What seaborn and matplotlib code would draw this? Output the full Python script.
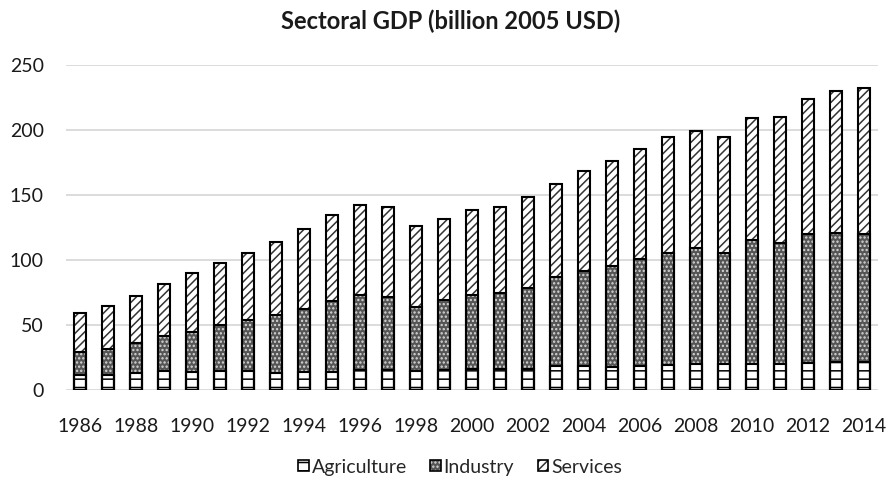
import matplotlib
matplotlib.use("Agg")
import matplotlib.pyplot as plt
import seaborn as sns
import pandas as pd
from matplotlib.patches import Patch

years = list(range(1986, 2015))
agriculture = [11.5, 11.5, 13.3, 14.6, 14.1, 14.6, 14.9, 12.8, 13.6, 14.1,
               15.1, 15.1, 14.6, 15.1, 15.9, 16.4, 16.4, 18.5, 18.5, 17.9,
               18.7, 19.3, 19.7, 20.0, 19.7, 20.3, 20.8, 21.5, 21.8]
industry = [17.5, 20.0, 23.1, 26.9, 30.8, 35.4, 38.9, 44.9, 48.7, 54.4,
            57.7, 56.7, 49.5, 53.9, 57.2, 58.0, 62.1, 68.4, 73.0, 77.5,
            82.1, 86.3, 89.5, 85.4, 95.7, 92.5, 99.5, 99.3, 98.5]
services = [30.0, 33.0, 36.1, 39.8, 45.1, 47.7, 51.8, 55.9, 61.5, 66.4,
            69.8, 69.2, 62.1, 62.8, 65.1, 66.4, 69.7, 71.6, 77.2, 80.8,
            84.6, 88.8, 90.3, 89.5, 94.1, 97.5, 103.5, 109.5, 112.0]
series_names = ["Agriculture", "Industry", "Services"]
title = "Sectoral GDP (billion 2005 USD)"

df = pd.DataFrame({"year": [str(y) for y in years],
                   "Agriculture": agriculture,
                   "Industry": industry,
                   "Services": services})
df["cum_agri"] = df["Agriculture"]
df["cum_ind"] = df["cum_agri"] + df["Industry"]
df["cum_total"] = df["cum_ind"] + df["Services"]

sns.set_theme(style="white")
plt.rcParams["font.family"] = ["Lato", "DejaVu Sans"]
plt.rcParams["hatch.linewidth"] = 1.1

fig = plt.figure(figsize=(8.9, 4.86), dpi=100)
ax = fig.add_axes([66 / 890, 1 - 390 / 486, 812 / 890, 325 / 486])

# style per layer: (column, face, hatch, hatch colour)
styles = {
    "Services": ("cum_total", "white", "////", "#333333"),
    "Industry": ("cum_ind", "#555555", "....", "#d8d8d8"),
    "Agriculture": ("cum_agri", "white", "--", "black"),
}
bw = 0.43
for name in ["Services", "Industry", "Agriculture"]:
    col, face, hatch, hc = styles[name]
    sns.barplot(data=df, x="year", y=col, ax=ax, color=face, saturation=1,
                width=bw, hatch=hatch, edgecolor=hc, linewidth=0, zorder=2)
    sns.barplot(data=df, x="year", y=col, ax=ax, fill=False, width=bw,
                edgecolor="black", linewidth=1.5, zorder=3)

ax.set_ylim(0, 250)
ax.set_xlim(-0.5, len(years) - 0.5)
ax.set_yticks([0, 50, 100, 150, 200, 250])
ax.set_xticks(range(0, len(years), 2))
ax.set_xticklabels([str(y) for y in years[::2]])
ax.set_xlabel("")
ax.set_ylabel("")
ax.grid(axis="y", color="#d9d9d9", linewidth=1.3, zorder=0)
ax.grid(axis="x", visible=False)
ax.set_axisbelow(True)
for s in ax.spines.values():
    s.set_visible(False)
ax.tick_params(axis="both", length=0, labelsize=14, colors="#1a1a1a")
ax.tick_params(axis="y", pad=16)
ax.tick_params(axis="x", pad=20)

fig.text(0.506, 1 - 21 / 486, title, ha="center", va="center",
         fontsize=17, fontweight="bold", color="#1a1a1a")

handles = []
for name in series_names:
    col, face, hatch, hc = styles[name]
    handles.append((Patch(facecolor=face, hatch=hatch, edgecolor=hc, linewidth=0),
                    Patch(fill=False, edgecolor="black", linewidth=1.2)))
fig.legend(handles, series_names, loc="center", bbox_to_anchor=(460 / 890, 1 - 467 / 486),
           ncol=3, frameon=False, fontsize=14, handlelength=0.55, handleheight=0.55,
           handletextpad=0.15, columnspacing=1.2)

fig.savefig("out.png", dpi=100)
